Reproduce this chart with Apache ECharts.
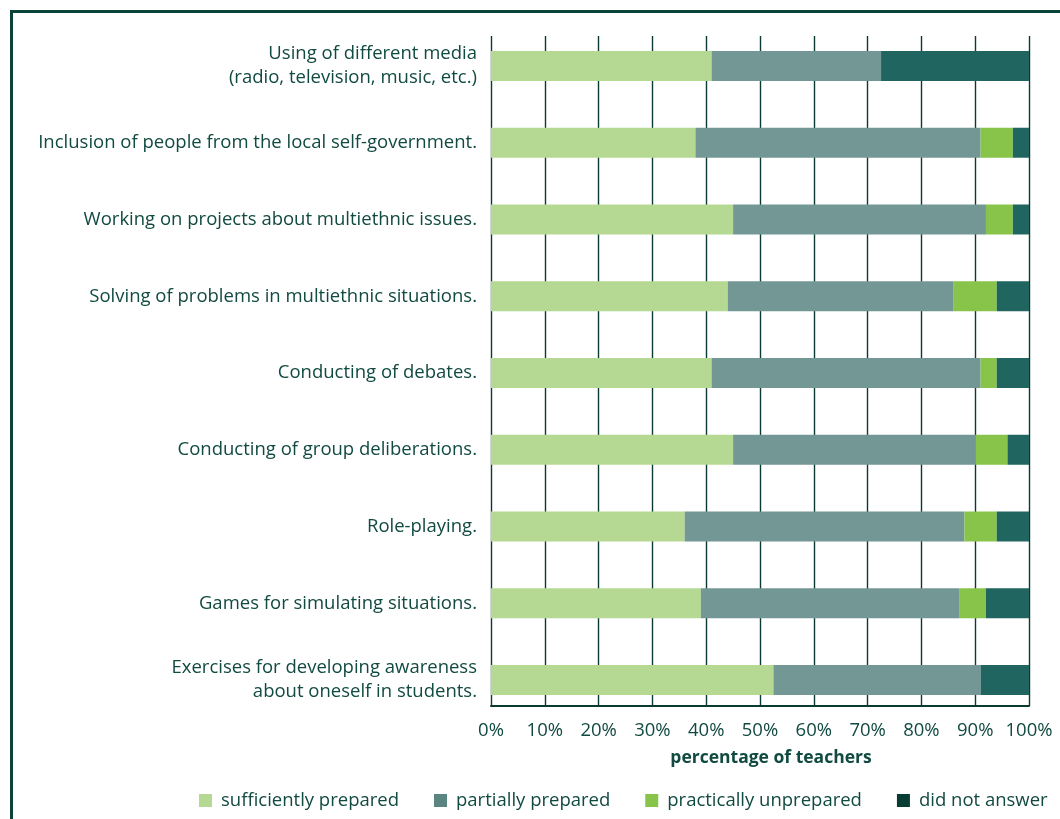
<!DOCTYPE html>
<html>
<head>
<meta charset="utf-8">
<script src="https://cdn.jsdelivr.net/npm/echarts@6/dist/echarts.min.js"></script>
<style>
  html, body { margin: 0; padding: 0; background: #ffffff; }
  #chart { width: 1060px; height: 819px; }
</style>
</head>
<body>
<div id="chart"></div>
<script>
// Teaching methods, listed top to bottom
const categories = [
  'Using of different media\n(radio, television, music, etc.)',
  'Inclusion of people from the local self-government.',
  'Working on projects about multiethnic issues.',
  'Solving of problems in multiethnic situations.',
  'Conducting of debates.',
  'Conducting of group deliberations.',
  'Role-playing.',
  'Games for simulating situations.',
  'Exercises for developing awareness\nabout oneself in students.'
];

// Share of teachers (%) for each answer
const sufficientlyPrepared = [41, 38, 45, 44, 41, 45, 36, 39, 52.5];
const partiallyPrepared    = [31.5, 53, 47, 42, 50, 45, 52, 48, 38.5];
const practicallyUnprepared = [0, 6, 5, 8, 3, 6, 6, 5, 0];
const didNotAnswer         = [27.5, 3, 3, 6, 6, 4, 6, 8, 9];

const seriesNames = ['sufficiently prepared', 'partially prepared', 'practically unprepared', 'did not answer'];
const tickValues = [0, 10, 20, 30, 40, 50, 60, 70, 80, 90, 100];

const barColors  = ['#b5d992', '#739794', '#87c449', '#216561'];
const iconColors = ['#b5d992', '#5b8580', '#87c449', '#073d33'];
const textColor = '#114a41';
const lineColor = '#0a3a31';
const fontFamily = '"Open Sans", "Noto Sans", sans-serif';

const chart = echarts.init(document.getElementById('chart'), null, { renderer: 'canvas' });

const seriesData = [sufficientlyPrepared, partiallyPrepared, practicallyUnprepared, didNotAnswer];

const option = {
  backgroundColor: '#ffffff',
  animation: false,
  textStyle: { fontFamily: fontFamily },
  graphic: [{
    type: 'rect',
    silent: true,
    z: 100,
    shape: { x: 11.5, y: 11.5, width: 1200, height: 1000 },
    style: { fill: 'none', stroke: '#0c443c', lineWidth: 3 }
  }],
  legend: {
    left: 194,
    top: 786,
    itemWidth: 13,
    itemHeight: 13,
    itemGap: 35,
    icon: 'rect',
    textStyle: { fontSize: 18.5, color: textColor, fontFamily: fontFamily, padding: [0, 0, 0, 4] },
    data: seriesNames.map((n, i) => ({ name: n, itemStyle: { color: iconColors[i] } }))
  },
  grid: [
    // bars
    { left: 491, right: 31, top: 27.6, bottom: 100.6 },
    // value axis, gridlines and labels
    { left: 491, right: 31, top: 36, bottom: 113 }
  ],
  xAxis: [
    { gridIndex: 0, type: 'value', min: 0, max: 100, interval: 10, show: false },
    {
      gridIndex: 1, type: 'value', min: tickValues[0], max: tickValues[tickValues.length - 1], interval: 10,
      axisLine: { show: true, lineStyle: { color: lineColor, width: 2 } },
      axisTick: { show: false },
      splitLine: { show: true, lineStyle: { color: lineColor, width: 1.4 } },
      axisLabel: { formatter: '{value}%', fontSize: 18.5, color: textColor, margin: 15, fontFamily: fontFamily },
      name: 'percentage of teachers',
      nameLocation: 'middle',
      nameGap: 43,
      nameTextStyle: { fontSize: 17.5, fontWeight: 'bold', color: textColor, fontFamily: fontFamily, padding: [0, 0, 0, 22] }
    }
  ],
  yAxis: [
    {
      gridIndex: 0, type: 'category', inverse: true, data: categories,
      axisLine: { show: false }, axisTick: { show: false }, splitLine: { show: false },
      axisLabel: { fontSize: 18.5, lineHeight: 24, color: textColor, margin: 14, align: 'right', fontFamily: fontFamily }
    },
    { gridIndex: 1, type: 'value', show: false, min: 0, max: 1 }
  ],
  series: seriesNames.map((name, i) => ({
    name: name,
    type: 'bar',
    stack: 'total',
    xAxisIndex: 0,
    yAxisIndex: 0,
    barWidth: 30,
    itemStyle: { color: barColors[i] },
    data: seriesData[i]
  }))
};

chart.setOption(option);
</script>
</body>
</html>
